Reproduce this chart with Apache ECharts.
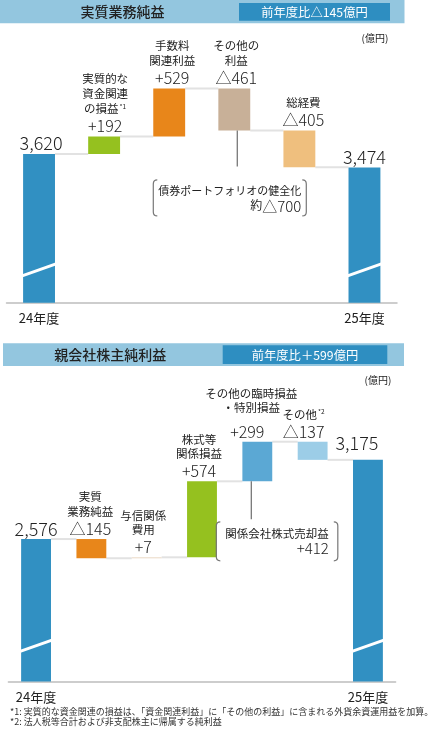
<!DOCTYPE html>
<html><head><meta charset="utf-8">
<script src="https://cdn.jsdelivr.net/npm/echarts@6/dist/echarts.min.js"></script>
<style>html,body{margin:0;padding:0;background:#fff}#c{width:439px;height:733px}</style>
</head><body><div id="c"></div>
<script>
// ---------- DATA ----------
const topTitle = '実質業務純益';
const topBadge = '前年度比△145億円';
const topCategories = ['24年度','実質的な資金関連の損益','手数料関連利益','その他の利益','総経費','25年度'];
const topValues = [3620, 192, 529, -461, -405, 3474];
const topIsTotal = [true, false, false, false, false, true];
const topValueLabels = ['3,620','+192','+529','△461','△405','3,474'];
const topNameLines = [[], ['実質的な','資金関連','{n|の損益}{s|*1}'], ['手数料','関連利益'], ['その他の','利益'], ['総経費'], []];
const topNoteLines = ['債券ポートフォリオの健全化', '{n|約}{v|△700}'];

const bottomTitle = '親会社株主純利益';
const bottomBadge = '前年度比＋599億円';
const bottomCategories = ['24年度','実質業務純益','与信関係費用','株式等関係損益','その他の臨時損益・特別損益','その他','25年度'];
const bottomValues = [2576, -145, 7, 574, 299, -137, 3175];
const bottomIsTotal = [true, false, false, false, false, false, true];
const bottomValueLabels = ['2,576','△145','+7','+574','+299','△137','3,175'];
const bottomNameLines = [[], ['実質','業務純益'], ['与信関係','費用'], ['株式等','関係損益'], ['その他の臨時損益','・特別損益'], ['{n|その他}{s|*2}'], []];
const bottomNoteLines = ['関係会社株式売却益', '{v|+412}'];

const unitLabel = '(億円)';
const footnotes = [
  '*1: 実質的な資金関連の損益は、「資金関連利益」に「その他の利益」に含まれる外貨余資運用益を加算。',
  '*2: 法人税等合計および非支配株主に帰属する純利益'
];

// ---------- STYLE / LAYOUT ----------
const CJK = "'Noto Sans CJK JP','Noto Sans',sans-serif";
const TXT = '#222';
const NUMW = 300;
const topColors = ['#3190c2','#95c11f','#e8861a','#c8b098','#efbf7e','#3190c2'];
const bottomColors = ['#3190c2','#e8861a','#ead8c4','#95c11f','#5ba8d4','#9ccde7','#3190c2'];
const topLabelLayout = [{dx:2},{dx:1},{dx:3},{dx:2},{dx:4},{dx:0}];
const bottomLabelLayout = [{dx:0},{dx:-1},{dx:-3.5},{dx:-3},{dx:-10,ndx:-6,nameGap:24},{dx:-9},{dx:-11,dy:-7}];

function buildItems(values, isTotal, axisMin) {
  let run = 0; const items = [];
  values.forEach((v, i) => {
    if (isTotal[i]) { run = v; items.push([i, axisMin, v, v]); }
    else { const s = run; run = s + v; items.push([i, Math.min(s, run), Math.max(s, run), run]); }
  });
  return items;
}

const richBase = {
  n: {fontSize: 11.5, fontFamily: CJK, fill: TXT},
  s: {fontSize: 6.5, fontFamily: CJK, fill: TXT, verticalAlign: 'top', padding: [0, 0, 6, 1]},
  v: {fontSize: 15, fontFamily: CJK, fontWeight: NUMW, fill: TXT}
};

function bracket(l, r, t, b) {
  const k = 4;
  return 'M' + (l + k) + ' ' + t + ' Q' + l + ' ' + t + ' ' + l + ' ' + (t + k) +
    ' L' + l + ' ' + (b - k) + ' Q' + l + ' ' + b + ' ' + (l + k) + ' ' + b +
    ' M' + (r - k) + ' ' + t + ' Q' + r + ' ' + t + ' ' + r + ' ' + (t + k) +
    ' L' + r + ' ' + (b - k) + ' Q' + r + ' ' + b + ' ' + (r - k) + ' ' + b;
}

function makeRender(cfg) {
  return function (params, api) {
    const i = params.dataIndex;
    const low = api.value(1), high = api.value(2), end = api.value(3);
    const band = api.size([1, 0])[0];
    const w = band * cfg.barRatio;
    const pH = api.coord([i, high]);
    const yL = api.coord([i, low])[1];
    const xc = pH[0], yH = pH[1];
    const ch = [];
    if (i < cfg.count - 1) {
      const ye = api.coord([i, end])[1];
      ch.push({type: 'line', shape: {x1: xc + w / 2, y1: ye, x2: xc + band - w / 2, y2: ye},
        style: {stroke: '#e2e2e2', lineWidth: 2}});
    }
    ch.push({type: 'rect', shape: {x: xc - w / 2, y: yH, width: w, height: Math.max(yL - yH, 1)},
      style: {fill: cfg.colors[i]}});
    if (cfg.isTotal[i]) {
      const yb = api.coord([i, cfg.breakValue])[1];
      const s = w * 0.19;
      ch.push({type: 'line', shape: {x1: xc - w / 2 - 1, y1: yb + s, x2: xc + w / 2 + 1, y2: yb - s},
        style: {stroke: '#fff', lineWidth: 3}});
    }
    const lay = cfg.labelLayout[i];
    const vy = yH - cfg.valueGap + (lay.dy || 0);
    ch.push({type: 'text', x: xc + lay.dx, y: vy,
      style: {text: cfg.valueLabels[i], fill: TXT, fontFamily: CJK, fontWeight: NUMW,
        fontSize: cfg.isTotal[i] ? cfg.totalFont : cfg.deltaFont, align: 'center', verticalAlign: 'middle'}});
    const lines = cfg.nameLines[i];
    let ny = vy - (lay.nameGap || cfg.nameGap);
    for (let k = lines.length - 1; k >= 0; k--) {
      ch.push({type: 'text', x: xc + (lay.ndx !== undefined ? lay.ndx : lay.dx), y: ny,
        style: {text: lines[k], fill: TXT, fontFamily: CJK, fontSize: 11.5, align: 'center',
          verticalAlign: 'middle', rich: richBase}});
      ny -= cfg.lineGap;
    }
    const a = cfg.note;
    if (a && a.index === i) {
      const lx = xc + a.lineDx;
      ch.push({type: 'line', shape: {x1: lx, y1: yL, x2: lx, y2: yL + a.lineLen},
        style: {stroke: '#777', lineWidth: 1.3}});
      const L = xc + a.l, R = xc + a.r, T = yL + a.t, B = yL + a.b;
      ch.push({type: 'path', shape: {pathData: bracket(L, R, T, B)},
        style: {stroke: '#777', lineWidth: 1.2, fill: null}});
      a.lines.forEach((t, k) => {
        ch.push({type: 'text', x: R - a.pad, y: T + a.firstY + k * a.lineStep,
          style: {text: t, fill: TXT, fontFamily: CJK, fontSize: a.fontSize, align: 'right',
            verticalAlign: 'middle', rich: Object.assign({}, richBase, {n: {fontSize: 12, fontFamily: CJK, fill: TXT}})}});
      });
    }
    return {type: 'group', children: ch};
  };
}

const topMin = 1990, topMax = 4400, bottomMin = 1500, bottomMax = 3500;

const topCfg = {
  count: topValues.length, barRatio: 0.49, colors: topColors, isTotal: topIsTotal,
  breakValue: 2350, labelLayout: topLabelLayout, valueLabels: topValueLabels, nameLines: topNameLines,
  valueGap: 10.5, nameGap: 17, lineGap: 15, totalFont: 18, deltaFont: 16,
  note: {index: 3, lineDx: 3, lineLen: 36, l: -81, r: 72, t: 49.5, b: 85.5, pad: 5,
    firstY: 11, lineStep: 15, fontSize: 11, lines: topNoteLines}
};
const bottomCfg = {
  count: bottomValues.length, barRatio: 0.54, colors: bottomColors, isTotal: bottomIsTotal,
  breakValue: 1770, labelLayout: bottomLabelLayout, valueLabels: bottomValueLabels, nameLines: bottomNameLines,
  valueGap: 10, nameGap: 17.5, lineGap: 14.5, totalFont: 18, deltaFont: 16,
  note: {index: 4, lineDx: -6, lineLen: 38, l: -41, r: 80.5, t: 40.5, b: 79.5, pad: 9,
    firstY: 11.6, lineStep: 15, fontSize: 11.5, lines: bottomNoteLines}
};

function xAxisFor(gridIndex, cats, isTotal) {
  return {
    type: 'category', gridIndex, data: cats,
    axisLine: {show: true, lineStyle: {color: '#bdbdbd', width: 1.5}},
    axisTick: {show: false},
    axisLabel: {interval: 0, margin: 9, fontSize: 13, color: TXT, fontFamily: CJK,
      formatter: (v, idx) => isTotal[idx] ? v : ''}
  };
}
function yAxisFor(gridIndex, min, max) {
  return {type: 'value', gridIndex, min, max, show: false, splitLine: {show: false}};
}

const chart = echarts.init(document.getElementById('c'), null, {renderer: 'canvas'});
chart.setOption({
  animation: false,
  backgroundColor: '#fff',
  grid: [
    {left: 6.5, right: 42, top: 83, bottom: 733 - 302.7},
    {left: 8.4, right: 43.4, top: 416.7, bottom: 733 - 681.5}
  ],
  xAxis: [xAxisFor(0, topCategories, topIsTotal), xAxisFor(1, bottomCategories, bottomIsTotal)],
  yAxis: [yAxisFor(0, topMin, topMax), yAxisFor(1, bottomMin, bottomMax)],
  series: [
    {type: 'custom', xAxisIndex: 0, yAxisIndex: 0, clip: false, renderItem: makeRender(topCfg),
      encode: {x: 0, y: [1, 2]}, data: buildItems(topValues, topIsTotal, topMin)},
    {type: 'custom', xAxisIndex: 1, yAxisIndex: 1, clip: false, renderItem: makeRender(bottomCfg),
      encode: {x: 0, y: [1, 2]}, data: buildItems(bottomValues, bottomIsTotal, bottomMin)}
  ],
  graphic: [
    {type: 'rect', shape: {x: 0, y: 0, width: 404.5, height: 23.3}, style: {fill: '#93c6df'}},
    {type: 'rect', shape: {x: 239, y: 3, width: 151, height: 17.7}, style: {fill: '#2e8ec1'}},
    {type: 'text', x: 122.5, y: 12, style: {text: topTitle, fill: TXT, fontSize: 14, fontWeight: 500, fontFamily: CJK, align: 'center', verticalAlign: 'middle'}},
    {type: 'text', x: 314.5, y: 12, style: {text: topBadge, fill: '#fff', fontSize: 12.3, fontFamily: CJK, align: 'center', verticalAlign: 'middle'}},
    {type: 'text', x: 375, y: 38, style: {text: unitLabel, fill: TXT, fontSize: 10, fontFamily: CJK, align: 'center', verticalAlign: 'middle'}},

    {type: 'rect', shape: {x: 3, y: 343.3, width: 401, height: 22.7}, style: {fill: '#93c6df'}},
    {type: 'rect', shape: {x: 222.7, y: 345.3, width: 164.6, height: 18.7}, style: {fill: '#2e8ec1'}},
    {type: 'text', x: 110.3, y: 355, style: {text: bottomTitle, fill: TXT, fontSize: 14, fontWeight: 500, fontFamily: CJK, align: 'center', verticalAlign: 'middle'}},
    {type: 'text', x: 305, y: 355, style: {text: bottomBadge, fill: '#fff', fontSize: 12.3, fontFamily: CJK, align: 'center', verticalAlign: 'middle'}},
    {type: 'text', x: 378, y: 380, style: {text: unitLabel, fill: TXT, fontSize: 10, fontFamily: CJK, align: 'center', verticalAlign: 'middle'}},

    {type: 'text', x: 10, y: 711.7, style: {text: footnotes[0], fill: '#333', fontSize: 9, fontFamily: CJK, align: 'left', verticalAlign: 'middle'}},
    {type: 'text', x: 10, y: 721.7, style: {text: footnotes[1], fill: '#333', fontSize: 9, fontFamily: CJK, align: 'left', verticalAlign: 'middle'}}
  ]
});
</script>
</body></html>
